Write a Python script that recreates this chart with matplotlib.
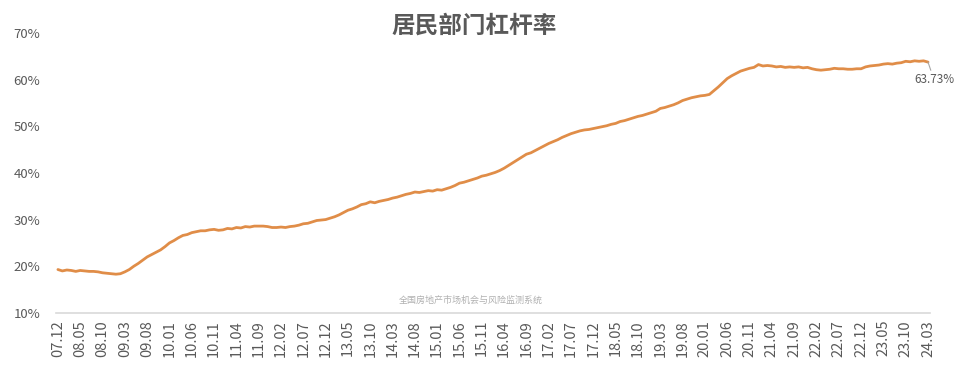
import matplotlib
matplotlib.use('Agg')
import matplotlib.pyplot as plt

plt.rcParams['font.family'] = ['Noto Sans CJK SC', 'DejaVu Sans']

# 居民部门杠杆率, 月度, 07.12 - 24.03 (%)
y2007 = [19.3]
y2008 = [19.0, 19.2, 19.1, 18.9, 19.1, 19.0, 18.9, 18.9, 18.8, 18.6, 18.5, 18.4]
y2009 = [18.3, 18.4, 18.8, 19.3, 20.0, 20.6, 21.3, 22.0, 22.5, 23.0, 23.5, 24.2]
y2010 = [25.0, 25.5, 26.1, 26.6, 26.8, 27.2, 27.4, 27.6, 27.6, 27.8, 27.9, 27.7]
y2011 = [27.8, 28.1, 28.0, 28.3, 28.2, 28.5, 28.4, 28.6, 28.6, 28.6, 28.5, 28.3]
y2012 = [28.3, 28.4, 28.3, 28.5, 28.6, 28.8, 29.1, 29.2, 29.5, 29.8, 29.9, 30.0]
y2013 = [30.3, 30.6, 31.0, 31.5, 32.0, 32.3, 32.7, 33.2, 33.4, 33.8, 33.6, 33.9]
y2014 = [34.1, 34.3, 34.6, 34.8, 35.1, 35.4, 35.6, 35.9, 35.8, 36.0, 36.2, 36.1]
y2015 = [36.4, 36.3, 36.6, 36.9, 37.3, 37.8, 38.0, 38.3, 38.6, 38.9, 39.3, 39.5]
y2016 = [39.8, 40.1, 40.5, 41.0, 41.6, 42.2, 42.8, 43.4, 44.0, 44.3, 44.8, 45.3]
y2017 = [45.8, 46.3, 46.7, 47.1, 47.6, 48.0, 48.4, 48.7, 49.0, 49.2, 49.3, 49.5]
y2018 = [49.7, 49.9, 50.1, 50.4, 50.6, 51.0, 51.2, 51.5, 51.8, 52.1, 52.3, 52.6]
y2019 = [52.9, 53.2, 53.8, 54.0, 54.3, 54.6, 55.0, 55.5, 55.8, 56.1, 56.3, 56.5]
y2020 = [56.6, 56.8, 57.6, 58.4, 59.3, 60.2, 60.8, 61.3, 61.8, 62.1, 62.4, 62.6]
y2021 = [63.2, 62.9, 63.0, 62.9, 62.7, 62.8, 62.6, 62.7, 62.6, 62.7, 62.5, 62.6]
y2022 = [62.3, 62.1, 62.0, 62.1, 62.2, 62.4, 62.3, 62.3, 62.2, 62.2, 62.3, 62.3]
y2023 = [62.7, 62.9, 63.0, 63.1, 63.3, 63.4, 63.3, 63.5, 63.6, 63.9, 63.8, 64.0]
y2024 = [63.9, 64.0, 63.73]

values = (y2007 + y2008 + y2009 + y2010 + y2011 + y2012 + y2013 + y2014 + y2015
          + y2016 + y2017 + y2018 + y2019 + y2020 + y2021 + y2022 + y2023 + y2024)

# 月份标签 yy.mm
labels = []
for yr in range(2007, 2025):
    for m in range(1, 13):
        if (yr == 2007 and m < 12) or (yr == 2024 and m > 3):
            continue
        labels.append('%02d.%02d' % (yr % 100, m))

x = list(range(len(values)))
tick_pos = x[::5]
tick_lab = labels[::5]

gray = '#595959'

fig = plt.figure(figsize=(9.6, 3.73), dpi=100)
ax = fig.add_axes([0.058, 0.161, 0.911, 0.751])

ax.plot(x, values, color='#E08D48', lw=2.0, solid_capstyle='round')

ax.set_xlim(-0.5, len(values) - 0.5)
ax.set_ylim(10, 70)
ax.set_yticks([10, 20, 30, 40, 50, 60, 70])
ax.set_yticklabels(['%d%%' % v for v in [10, 20, 30, 40, 50, 60, 70]])
ax.set_xticks(tick_pos)
ax.set_xticklabels(tick_lab, rotation=90)

ax.tick_params(axis='both', length=0, colors=gray)
ax.tick_params(axis='y', pad=11, labelsize=9.5)
ax.tick_params(axis='x', pad=5, labelsize=10.5)
for s in ['top', 'right', 'left']:
    ax.spines[s].set_visible(False)
ax.spines['bottom'].set_color('#d9d9d9')
ax.spines['bottom'].set_linewidth(1.2)

# 最后一点的数据标签
ax.annotate('%.2f%%' % values[-1], xy=(x[-1], values[-1]), xytext=(26, -11),
            textcoords='offset pixels', ha='right', va='top', color=gray, fontsize=8.5,
            arrowprops=dict(arrowstyle='-', color='#a6a6a6', lw=0.8, shrinkA=0, shrinkB=0))

fig.text(0.494, 0.93, '居民部门杠杆率', ha='center', va='center', fontsize=17,
         color=gray, fontweight='bold')
fig.text(0.49, 0.195, '全国房地产市场机会与风险监测系统', ha='center', va='center',
         fontsize=6.5, color='#b0b0b0')

fig.savefig('out.png', dpi=100)
